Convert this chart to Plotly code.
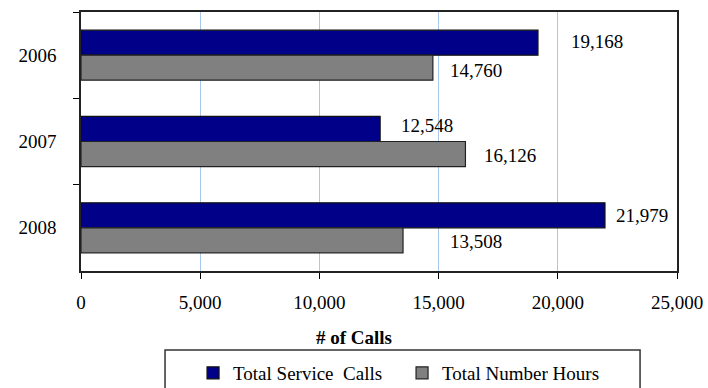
import plotly.graph_objects as go

# Yearly totals
years = ["2006", "2007", "2008"]
service_calls = [19168, 12548, 21979]
number_hours = [14760, 16126, 13508]
x_ticks = [0, 5000, 10000, 15000, 20000, 25000]

FONT = "Liberation Serif, Times New Roman, serif"
NAVY = "#000088"
GRAY = "#808080"

fig = go.Figure()
fig.add_trace(go.Bar(
    name="Total Service\u00a0 Calls", y=years, x=service_calls, orientation="h",
    marker=dict(color=NAVY, line=dict(color="#111111", width=1.2)),
))
fig.add_trace(go.Bar(
    name="Total Number Hours", y=years, x=number_hours, orientation="h",
    marker=dict(color=GRAY, line=dict(color="#222222", width=1.2)),
))

# value labels beside each bar: (series values, vertical offset, horizontal nudges, vertical nudges)
label_specs = [
    (service_calls, 12.5, [31, 19, 9], [1, 4, 0]),
    (number_hours, -12.5, [15, 17, 45], [-3, -1, -1]),
]
for values, base_shift, xshifts, ynudges in label_specs:
    for idx, (v, xs, yn) in enumerate(zip(values, xshifts, ynudges)):
        # category axis position = index of the year
        fig.add_annotation(
            x=v, y=idx, xref="x", yref="y", text=f"{v:,}", showarrow=False,
            xanchor="left", yanchor="middle", xshift=xs, yshift=base_shift + yn,
            font=dict(family=FONT, size=19, color="#000000"),
        )

# axis title
fig.add_annotation(
    x=0.458, y=-0.255, xref="paper", yref="paper", text="<b># of Calls</b>",
    showarrow=False, xanchor="center", yanchor="middle",
    font=dict(family=FONT, size=19, color="#000000"),
)

# legend frame
fig.add_shape(
    type="rect", xref="paper", yref="paper", x0=0.141, x1=0.938, y0=-0.305, y1=-0.48,
    line=dict(color="#333333", width=1.5), fillcolor="rgba(0,0,0,0)", layer="above",
)

fig.update_layout(
    width=708, height=388,
    margin=dict(l=81, r=31, t=12, b=117, autoexpand=False),
    paper_bgcolor="white", plot_bgcolor="white",
    barmode="group", bargap=0.42, bargroupgap=0,
    font=dict(family=FONT, size=19, color="#000000"),
    showlegend=True,
    legend=dict(
        orientation="h", xref="paper", x=0.188, xanchor="left",
        yref="container", y=0.0387, yanchor="middle",
        font=dict(family=FONT, size=19), itemwidth=30, entrywidth=164,
        bgcolor="rgba(0,0,0,0)", borderwidth=0, traceorder="normal",
    ),
    xaxis=dict(
        range=[0, 25000], tickvals=x_ticks, tickformat=",", automargin=False,
        showgrid=True, gridcolor="#a9c8ee", gridwidth=1,
        ticks="outside", ticklen=6, tickcolor="#000000",
        showline=True, linecolor="#222222", linewidth=1.5, mirror=True,
        zeroline=False, ticklabelstandoff=7,
        tickfont=dict(family=FONT, size=19),
    ),
    yaxis=dict(
        type="category", categoryorder="array", categoryarray=years,
        range=[2.5, -0.5], tickson="boundaries", automargin=False,
        ticks="outside", ticklen=6, tickcolor="#000000",
        showline=True, linecolor="#222222", linewidth=1.5, mirror=True,
        showgrid=False, ticklabelstandoff=19,
        tickfont=dict(family=FONT, size=19),
    ),
)

fig.write_html("out.html")
